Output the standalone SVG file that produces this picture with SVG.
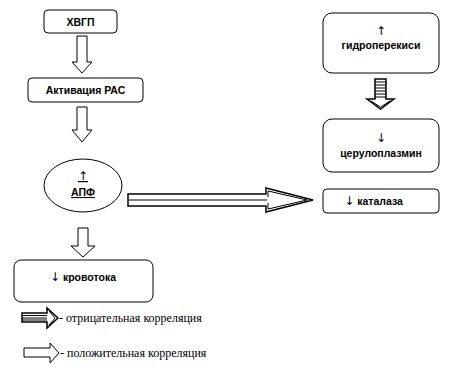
<svg xmlns="http://www.w3.org/2000/svg" width="459" height="378" viewBox="0 0 459 378">
<style>
.box{fill:#fff;stroke:#000;stroke-width:1}
.lbl{font-family:"Liberation Sans",Arial,sans-serif;font-weight:bold;font-size:10.5px;fill:#000;text-anchor:middle}
.ar{font-family:"DejaVu Sans",sans-serif;font-weight:normal;font-size:12px;fill:#000}
.leg{font-family:"Liberation Serif","Times New Roman",serif;font-size:12px;fill:#000}
.wa{fill:#fff;stroke:#000;stroke-width:1}
.sa{fill:#fff;stroke:#000;stroke-width:1.5}
.ln{fill:none;stroke:#000;stroke-width:1}
</style>
<rect width="459" height="378" fill="#fff"/>

<g id="connectors">
  <polygon class="wa" points="77,36 87,36 87,62 92,62 82,73 72,62 77,62"/>
  <polygon class="wa" points="77,107 87,107 87,130 92,130 82,142 72,130 77,130"/>
  <polygon class="wa" points="78,228 88,228 88,246 95,246 83,257 71,246 78,246"/>
  <g id="neg-horizontal">
    <polygon class="sa" points="128,194 266,194 266,188 313,200 266,212 266,206 128,206"/>
    <line class="ln" x1="129" y1="200" x2="267" y2="200"/>
    <polyline class="ln" points="268,197 268,191 307,200 268,209 268,203"/>
  </g>
  <g id="neg-vertical">
    <polygon class="sa" points="375,79 386,79 386,99 394,99 380.5,109 367,99 375,99"/>
    <path class="ln" d="M375,82H386M375,85H386M375,88H386M375,91H386M375,94H386M375,97H386"/>
    <polyline class="ln" points="371,101 380.5,107 390,101"/>
  </g>
</g>

<g id="n-hvgp">
  <rect class="box" x="44" y="10" width="73" height="23" rx="4"/>
  <text class="lbl" x="80.5" y="25.5">ХВГП</text>
</g>
<g id="n-ras">
  <rect class="box" x="28" y="78" width="115" height="24" rx="4"/>
  <text class="lbl" x="85.5" y="94">Активация РАС</text>
</g>
<g id="n-apf">
  <ellipse class="box" cx="83" cy="185.5" rx="39" ry="26.5"/>
  <text class="lbl" x="83" y="180" text-decoration="underline"><tspan class="ar">↑︎</tspan></text>
  <text class="lbl" x="83" y="196" text-decoration="underline">АПФ</text>
</g>
<g id="n-blood">
  <rect class="box" x="14" y="260" width="139" height="42" rx="7"/>
  <text class="lbl" x="83" y="281"><tspan class="ar">↓︎</tspan> кровотока</text>
</g>
<g id="n-hydro">
  <rect class="box" x="323" y="13" width="116" height="60" rx="9"/>
  <text class="lbl" x="381" y="35"><tspan class="ar">↑︎</tspan></text>
  <text class="lbl" x="381" y="49">гидроперекиси</text>
</g>
<g id="n-cerulo">
  <rect class="box" x="323" y="119" width="116" height="53" rx="9"/>
  <text class="lbl" x="381" y="142"><tspan class="ar">↓︎</tspan></text>
  <text class="lbl" x="381" y="157">церулоплазмин</text>
</g>
<g id="n-catalase">
  <rect class="box" x="323" y="189" width="116" height="24" rx="4"/>
  <text class="lbl" x="373.5" y="205"><tspan class="ar">↓︎</tspan> каталаза</text>
</g>

<g id="legend">
  <polygon class="sa" points="22,313 47,313 47,308 58,318 47,328 47,322 22,322"/>
  <path class="ln" d="M22,315.5H47M22,318H47M22,320H47"/>
  <polyline class="ln" points="49,311 55,318 49,325"/>
  <text class="leg" x="59" y="322">- отрицательная корреляция</text>
  <polygon class="wa" points="24,348 50,348 50,343 59,353 50,363 50,357 24,357"/>
  <text class="leg" x="60" y="357">- положительная корреляция</text>
</g>
</svg>
